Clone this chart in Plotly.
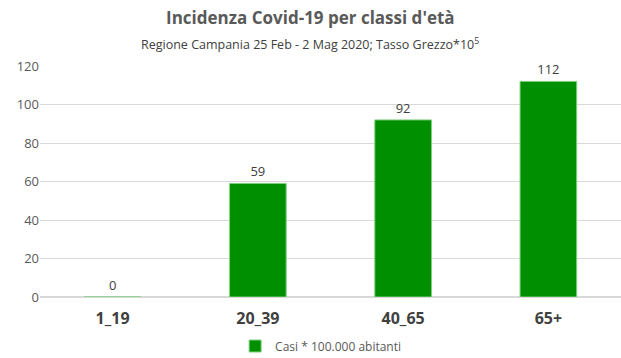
import plotly.graph_objects as go

categories = ["1_19", "20_39", "40_65", "65+"]
values = [0, 59, 92, 112]
series_name = "Casi * 100.000 abitanti"
y_ticks = [0, 20, 40, 60, 80, 100, 120]
title_text = "<b>Incidenza Covid-19 per classi d'età</b>"
subtitle_text = "Regione Campania 25 Feb - 2 Mag 2020; Tasso Grezzo*10<sup>5</sup>"

fig = go.Figure()
fig.add_trace(go.Bar(
    x=categories, y=values, name=series_name,
    marker=dict(color="#008f00", line=dict(color="#7fd17f", width=1)),
    width=0.39,
    text=[str(v) for v in values], textposition="outside",
    textfont=dict(size=13, color="#404040", family="Open Sans"),
    cliponaxis=False,
    showlegend=True,
))

fig.add_annotation(
    text=title_text, xref="paper", yref="paper", x=0.465, y=1.0 + (66 - 18) / 231,
    xanchor="center", yanchor="middle", showarrow=False,
    font=dict(size=17, color="#595959", family="Open Sans"),
)
fig.add_annotation(
    text=subtitle_text, xref="paper", yref="paper", x=0.465, y=1.0 + (66 - 44) / 231,
    xanchor="center", yanchor="middle", showarrow=False,
    font=dict(size=12.5, color="#404040", family="Open Sans"),
)

fig.update_layout(
    width=621, height=358,
    margin=dict(l=40, r=0, t=66, b=61, autoexpand=False),
    paper_bgcolor="white", plot_bgcolor="white",
    font=dict(family="Open Sans", color="#595959"),
    xaxis=dict(
        showgrid=False, showline=False, ticks="",
        tickfont=dict(size=16, color="#404040", family="Open Sans"),
        tickprefix="<b>", ticksuffix="</b>",
        ticklabelstandoff=10,
    ),
    yaxis=dict(
        range=[0, 120], tickvals=y_ticks, showgrid=True, gridcolor="#d9d9d9",
        zeroline=True, zerolinecolor="#d9d9d9", showline=False,
        tickfont=dict(size=13, color="#595959", family="Open Sans"),
        ticks="", ticklen=0,
    ),
    legend=dict(
        orientation="h", x=0.483, xanchor="center", y=-(346 - 297) / 231, yanchor="middle",
        font=dict(size=12, color="#595959", family="Open Sans"),
        itemwidth=30,
    ),
    bargap=0.6,
)

fig.write_html("out.html")
